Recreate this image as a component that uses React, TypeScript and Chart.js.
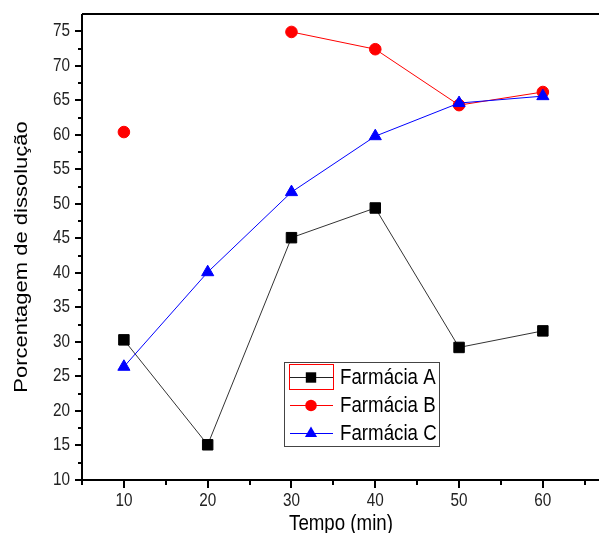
import React, { useEffect, useRef } from "react";
import { Chart, registerables } from "chart.js";

Chart.register(...registerables);

const times = [10, 20, 30, 40, 50, 60];
const farmaciaA = [30.3, 15.1, 45.1, 49.4, 29.2, 31.6];
const farmaciaB = [60.4, null, 74.9, 72.4, 64.3, 66.2];
const farmaciaC = [26.4, 40.1, 51.7, 59.8, 64.6, 65.6];
const seriesNames = ["Farmácia A", "Farmácia B", "Farmácia C"];
const xTicks = [10, 20, 30, 40, 50, 60];
const xMinorTicks = [5, 15, 25, 35, 45, 55, 65];
const yTicks = [10, 15, 20, 25, 30, 35, 40, 45, 50, 55, 60, 65, 70, 75];
const yMinorTicks = [12.5, 17.5, 22.5, 27.5, 32.5, 37.5, 42.5, 47.5, 52.5, 57.5, 62.5, 67.5, 72.5];
const xTitle = "Tempo (min)";
const yTitle = "Porcentagem de dissolução";

const FONT = '"Liberation Sans", Arial, sans-serif';
const SQ = 0.85;

function sText(ctx: CanvasRenderingContext2D, text: string, x: number, y: number, size: number, align: CanvasTextAlign, base: CanvasTextBaseline, color = "#111") {
  ctx.save();
  ctx.translate(x, y);
  ctx.scale(SQ, 1);
  ctx.font = `${size}px ${FONT}`;
  ctx.fillStyle = color;
  ctx.textAlign = align;
  ctx.textBaseline = base;
  ctx.fillText(text, 0, 0);
  ctx.restore();
}

function marker(ctx: CanvasRenderingContext2D, kind: string, x: number, y: number, color: string) {
  ctx.save();
  ctx.fillStyle = color;
  ctx.beginPath();
  if (kind === "rect") {
    ctx.rect(x - 5.2, y - 5.2, 10.4, 10.4);
  } else if (kind === "circle") {
    ctx.arc(x, y, 5.8, 0, Math.PI * 2);
  } else {
    ctx.moveTo(x, y - 7);
    ctx.lineTo(x + 6.1, y + 3.5);
    ctx.lineTo(x - 6.1, y + 3.5);
    ctx.closePath();
  }
  ctx.fill();
  ctx.restore();
}

const decor = {
  id: "decor",
  afterDraw(chart: any) {
    const ctx: CanvasRenderingContext2D = chart.ctx;
    const xs = chart.scales.x;
    const ys = chart.scales.y;
    const a = chart.chartArea;
    ctx.save();
    ctx.strokeStyle = "#000";
    ctx.lineWidth = 2;
    ctx.beginPath();
    ctx.moveTo(a.left, a.top);
    ctx.lineTo(a.right, a.top);
    ctx.moveTo(a.left, a.top);
    ctx.lineTo(a.left, a.bottom + 1);
    ctx.moveTo(a.left - 1, a.bottom);
    ctx.lineTo(a.right, a.bottom);
    yTicks.forEach((v) => {
      const py = Math.round(ys.getPixelForValue(v));
      ctx.moveTo(a.left - 7, py);
      ctx.lineTo(a.left, py);
    });
    yMinorTicks.forEach((v) => {
      const py = Math.round(ys.getPixelForValue(v));
      ctx.moveTo(a.left - 4, py);
      ctx.lineTo(a.left, py);
    });
    xTicks.forEach((v) => {
      const px = Math.round(xs.getPixelForValue(v));
      ctx.moveTo(px, a.bottom);
      ctx.lineTo(px, a.bottom + 8);
    });
    xMinorTicks.forEach((v) => {
      const px = Math.round(xs.getPixelForValue(v));
      ctx.moveTo(px, a.bottom);
      ctx.lineTo(px, a.bottom + 5);
    });
    ctx.stroke();
    ctx.restore();

    yTicks.forEach((v) => {
      sText(ctx, String(v), a.left - 12, ys.getPixelForValue(v), 18, "right", "middle", "#222");
    });
    xTicks.forEach((v) => {
      sText(ctx, String(v), xs.getPixelForValue(v), 501, 18, "center", "middle", "#222");
    });
    sText(ctx, xTitle, 341, 530, 22, "center", "alphabetic", "#000");

    ctx.save();
    ctx.translate(27, 257);
    ctx.scale(SQ, 1);
    ctx.rotate(-Math.PI / 2);
    ctx.font = `22px ${FONT}`;
    ctx.fillStyle = "#000";
    ctx.textAlign = "center";
    ctx.textBaseline = "alphabetic";
    ctx.fillText(yTitle, 0, 0);
    ctx.restore();

    // legend
    ctx.save();
    ctx.strokeStyle = "#444";
    ctx.lineWidth = 1;
    ctx.strokeRect(284.5, 362.5, 155, 84);
    ctx.strokeStyle = "#ff0000";
    ctx.strokeRect(289.5, 364.5, 44, 25);
    const rows = [377, 405, 433];
    const colors = ["#222", "#ff0000", "#0000ff"];
    const kinds = ["rect", "circle", "triangle"];
    rows.forEach((ry, i) => {
      ctx.strokeStyle = colors[i];
      ctx.lineWidth = 1;
      ctx.beginPath();
      ctx.moveTo(290, ry + 0.5);
      ctx.lineTo(333, ry + 0.5);
      ctx.stroke();
      marker(ctx, kinds[i], 311, ry + 0.5, i === 0 ? "#000" : colors[i]);
      sText(ctx, seriesNames[i], 340, ry + 1, 22, "left", "middle", "#000");
    });
    ctx.restore();
  },
};

export default function App() {
  const ref = useRef<HTMLCanvasElement | null>(null);
  useEffect(() => {
    if (!ref.current) return;
    const mk = (arr: (number | null)[]) => times.map((t, i) => ({ x: t, y: arr[i] }));
    const chart = new Chart(ref.current, {
      type: "line",
      data: {
        datasets: [
          {
            label: seriesNames[0],
            data: mk(farmaciaA) as any,
            borderColor: "#333",
            backgroundColor: "#000",
            pointBackgroundColor: "#000",
            pointBorderColor: "#000",
            pointStyle: "rect",
            pointRadius: 7.4,
            borderWidth: 1,
            order: 2,
          },
          {
            label: seriesNames[1],
            data: mk(farmaciaB) as any,
            borderColor: "#ff0000",
            backgroundColor: "#ff0000",
            pointStyle: "circle",
            pointRadius: 5.8,
            borderWidth: 1,
            spanGaps: false,
            order: 1,
          },
          {
            label: seriesNames[2],
            data: mk(farmaciaC) as any,
            borderColor: "#0000ff",
            backgroundColor: "#0000ff",
            pointStyle: "triangle",
            pointRadius: 7,
            borderWidth: 1,
            order: 0,
          },
        ],
      },
      options: {
        animation: false,
        responsive: false,
        maintainAspectRatio: false,
        layout: { autoPadding: false, padding: { top: 14, right: 0, left: 0, bottom: 0 } },
        plugins: { legend: { display: false }, tooltip: { enabled: false } },
        elements: { line: { tension: 0 }, point: { borderWidth: 1, hoverRadius: 7 } },
        scales: {
          x: {
            type: "linear",
            min: 5,
            max: 66.7,
            grid: { display: false },
            border: { display: false },
            ticks: { display: false },
            afterFit: (s: any) => {
              s.height = 53;
            },
          },
          y: {
            type: "linear",
            min: 10,
            max: 77.5,
            grid: { display: false },
            border: { display: false },
            ticks: { display: false },
            afterFit: (s: any) => {
              s.width = 82;
            },
          },
        },
      },
      plugins: [decor],
    });
    return () => chart.destroy();
  }, []);
  return (
    <div style={{ position: "absolute", left: 0, top: 0, width: 599, height: 533, background: "#fff" }}>
      <canvas ref={ref} width={599} height={533} style={{ display: "block", width: 599, height: 533 }} />
    </div>
  );
}
